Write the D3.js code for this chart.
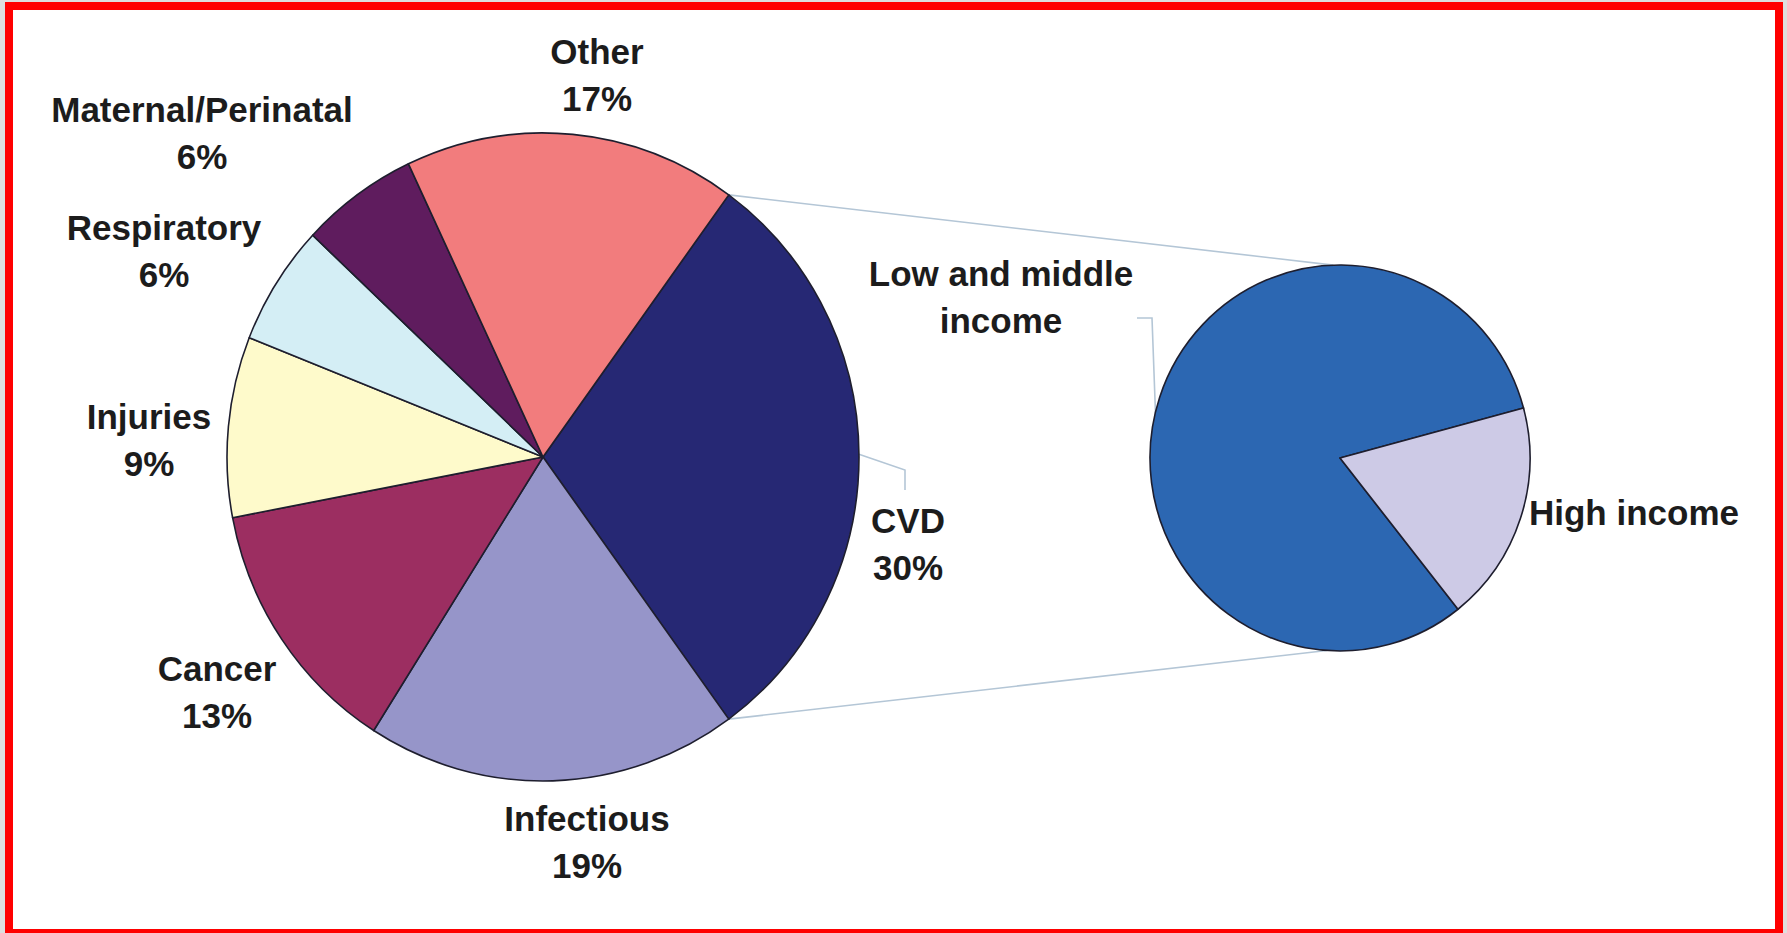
<!DOCTYPE html>
<html>
<head>
<meta charset="utf-8">
<script src="https://cdn.jsdelivr.net/npm/d3@7"></script>
<style>
  html, body { margin: 0; padding: 0; background: #dedede; }
  svg { display: block; }
  .lbl { font-family: "Liberation Sans", Arial, sans-serif; font-weight: bold; font-size: 35px; fill: #1c1c1c; }
</style>
</head>
<body>
<div id="chart"></div>
<script>
// main pie: causes of death
const causes = ["CVD", "Infectious", "Cancer", "Injuries", "Respiratory", "Maternal/Perinatal", "Other"];
const shares = [30, 19, 13, 9, 6, 6, 17];
const causeColors = ["#262874", "#9695c9", "#9c2e61", "#fefacb", "#d4eef5", "#5f1c5e", "#f27c7d"];

// second pie: CVD split by income
const incomeGroups = ["Low and middle income", "High income"];
const incomeShares = [81.5, 18.5];
const incomeColors = ["#2c67b2", "#cdcae6"];

// label anchors (x, first baseline), lines split on "|"
const causeLabels = [
  ["CVD|30%", 908, 533],
  ["Infectious|19%", 587, 831],
  ["Cancer|13%", 217, 681],
  ["Injuries|9%", 149, 429],
  ["Respiratory|6%", 164, 240],
  ["Maternal/Perinatal|6%", 202, 122],
  ["Other|17%", 597, 64]
];
const incomeLabels = [
  ["Low and middle|income", 1001, 286],
  ["High income", 1634, 525]
];

const W = 1787, H = 933;
const main = { cx: 543, cy: 457, rx: 316, ry: 324 };
const side = { cx: 1340, cy: 458, rx: 190, ry: 193 };
const deg = Math.PI / 180;

const svg = d3.select("#chart").append("svg")
  .attr("width", W)
  .attr("height", H);

// red frame
svg.append("rect")
  .attr("x", 9).attr("y", 6)
  .attr("width", 1770).attr("height", 927)
  .attr("fill", "#fff")
  .attr("stroke", "#ff0000")
  .attr("stroke-width", 8);

const pieMain = d3.pie().sort(null).value(d => d).startAngle(36 * deg).endAngle(396 * deg);
const sideStart = 75 * deg + incomeShares[1] / 100 * 2 * Math.PI;
const pieSide = d3.pie().sort(null).value(d => d).startAngle(sideStart).endAngle(sideStart + 2 * Math.PI);

const mainArcs = pieMain(shares);
const sideArcs = pieSide(incomeShares);

// point on an elliptical pie edge
function edge(p, a) {
  return [p.cx + p.rx * Math.sin(a), p.cy - p.ry * Math.cos(a)];
}

// connector lines between the CVD slice and the breakdown pie
const conn = svg.append("g")
  .attr("stroke", "#b4c6d6")
  .attr("stroke-width", 1.6)
  .attr("fill", "none");
const cvd = mainArcs[0];
conn.append("line")
  .attr("x1", edge(main, cvd.startAngle)[0]).attr("y1", edge(main, cvd.startAngle)[1])
  .attr("x2", edge(side, -2 * deg)[0]).attr("y2", edge(side, -2 * deg)[1]);
conn.append("line")
  .attr("x1", edge(main, cvd.endAngle)[0]).attr("y1", edge(main, cvd.endAngle)[1])
  .attr("x2", edge(side, 184 * deg)[0]).attr("y2", edge(side, 184 * deg)[1]);

// leader lines
conn.append("polyline")
  .attr("points", [edge(main, 89.5 * deg), [905, 470], [905, 490]].map(p => p.join(",")).join(" "));
conn.append("polyline")
  .attr("points", [[1137, 318], [1152, 318], edge(side, 252 * deg)].map(p => p.join(",")).join(" "));

// main pie
const gMain = svg.append("g")
  .attr("transform", `translate(${main.cx},${main.cy}) scale(1,${main.ry / main.rx})`);
gMain.selectAll("path")
  .data(mainArcs)
  .join("path")
  .attr("d", d3.arc().innerRadius(0).outerRadius(main.rx))
  .attr("fill", (d, i) => causeColors[i])
  .attr("stroke", "#1e1e2e")
  .attr("stroke-width", 1.6)
  .attr("stroke-linejoin", "round");

// side pie
const gSide = svg.append("g")
  .attr("transform", `translate(${side.cx},${side.cy}) scale(1,${side.ry / side.rx})`);
gSide.selectAll("path")
  .data(sideArcs)
  .join("path")
  .attr("d", d3.arc().innerRadius(0).outerRadius(side.rx))
  .attr("fill", (d, i) => incomeColors[i])
  .attr("stroke", "#1e1e2e")
  .attr("stroke-width", 1.6)
  .attr("stroke-linejoin", "round");

// labels
function drawLabels(list) {
  list.forEach(([txt, x, y]) => {
    const t = svg.append("text")
      .attr("class", "lbl")
      .attr("text-anchor", "middle")
      .attr("x", x).attr("y", y);
    txt.split("|").forEach((line, k) => {
      t.append("tspan").attr("x", x).attr("dy", k === 0 ? 0 : 47).text(line);
    });
  });
}
drawLabels(causeLabels);
drawLabels(incomeLabels);
</script>
</body>
</html>
